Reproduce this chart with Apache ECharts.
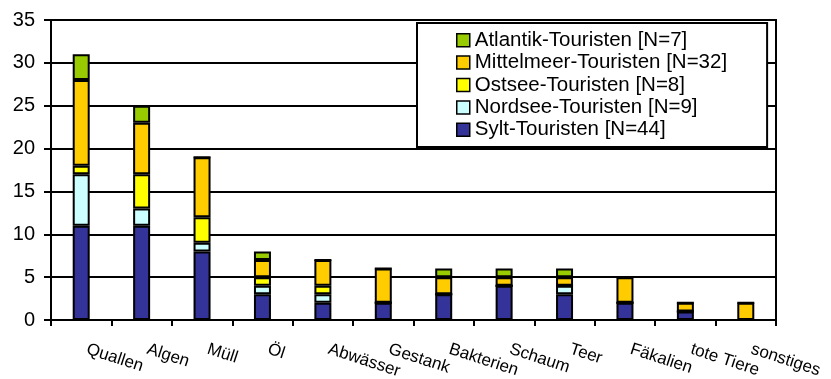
<!DOCTYPE html>
<html>
<head>
<meta charset="utf-8">
<script src="https://cdn.jsdelivr.net/npm/echarts@6/dist/echarts.min.js"></script>
<style>
  html, body { margin: 0; padding: 0; background: #fff; }
  #chart { width: 831px; height: 379px; }
</style>
</head>
<body>
<div id="chart"></div>
<script>
// Beobachtete Verschmutzungen nach Herkunft der Touristen (Anzahl Nennungen)
const categories = ['Quallen', 'Algen', 'Müll', 'Öl', 'Abwässer', 'Gestank',
  'Bakterien', 'Schaum', 'Teer', 'Fäkalien', 'tote Tiere', 'sonstiges'];

const sylt       = [11, 11, 8, 3, 2, 2, 3, 4, 3, 2, 1, 0];
const nordsee    = [6, 2, 1, 1, 1, 0, 0, 0, 1, 0, 0, 0];
const ostsee     = [1, 4, 3, 1, 1, 0, 0, 0, 0, 0, 0, 0];
const mittelmeer = [10, 6, 7, 2, 3, 4, 2, 1, 1, 3, 1, 2];
const atlantik   = [3, 2, 0, 1, 0, 0, 1, 1, 1, 0, 0, 0];

const seriesNames = {
  sylt: 'Sylt-Touristen [N=44]',
  nordsee: 'Nordsee-Touristen [N=9]',
  ostsee: 'Ostsee-Touristen [N=8]',
  mittelmeer: 'Mittelmeer-Touristen [N=32]',
  atlantik: 'Atlantik-Touristen [N=7]'
};

const yTicks = { min: 0, max: 35, interval: 5 };

const FONT = "'Liberation Sans', Arial, Helvetica, sans-serif";

function barSeries(name, data, color) {
  return {
    name: name,
    type: 'bar',
    stack: 'total',
    data: data,
    barWidth: 17,
    itemStyle: { color: color, borderColor: '#000', borderWidth: 2 },
    emphasis: { disabled: true },
    animation: false
  };
}

const chart = echarts.init(document.getElementById('chart'), null, { renderer: 'canvas' });

chart.setOption({
  backgroundColor: '#fff',
  animation: false,
  textStyle: { fontFamily: FONT, color: '#000' },
  grid: {
    left: 51, right: 55, top: 20, bottom: 59,
    outerBoundsMode: 'none',
    containLabel: false,
    show: true, borderColor: '#000', borderWidth: 2, backgroundColor: 'transparent'
  },
  legend: {
    orient: 'vertical',
    left: 417,
    top: 23,
    padding: [6, 40, 6, 39],
    backgroundColor: '#fff',
    borderColor: '#000',
    borderWidth: 2,
    borderRadius: 0,
    itemWidth: 13,
    itemHeight: 13,
    itemGap: 0,
    icon: 'rect',
    selectedMode: false,
    textStyle: { fontFamily: FONT, fontSize: 20.5, color: '#000', lineHeight: 22.4 },
    itemStyle: { borderColor: '#000', borderWidth: 1.5 },
    data: [seriesNames.atlantik, seriesNames.mittelmeer, seriesNames.ostsee,
           seriesNames.nordsee, seriesNames.sylt]
  },
  xAxis: {
    type: 'category',
    data: categories,
    axisLine: { show: true, lineStyle: { color: '#000', width: 2 } },
    axisTick: { show: true, length: 6, lineStyle: { color: '#000', width: 2 } },
    axisLabel: {
      interval: 0,
      rotate: -18,
      margin: 27,
      padding: [0, 0, 0, 6],
      fontFamily: FONT,
      fontSize: 17,
      color: '#000',
      hideOverlap: false
    },
    splitLine: { show: false }
  },
  yAxis: {
    type: 'value',
    min: yTicks.min,
    max: yTicks.max,
    interval: yTicks.interval,
    axisLine: { show: true, lineStyle: { color: '#000', width: 2 } },
    axisTick: { show: true, length: 7, lineStyle: { color: '#000', width: 2 } },
    axisLabel: { margin: 16, fontFamily: FONT, fontSize: 20, color: '#000' },
    splitLine: { show: true, lineStyle: { color: '#000', width: 2 } }
  },
  series: [
    barSeries(seriesNames.sylt, sylt, '#333399'),
    barSeries(seriesNames.nordsee, nordsee, '#CCFFFF'),
    barSeries(seriesNames.ostsee, ostsee, '#FFFF00'),
    barSeries(seriesNames.mittelmeer, mittelmeer, '#FFCC00'),
    barSeries(seriesNames.atlantik, atlantik, '#99CC00')
  ]
});
</script>
</body>
</html>
